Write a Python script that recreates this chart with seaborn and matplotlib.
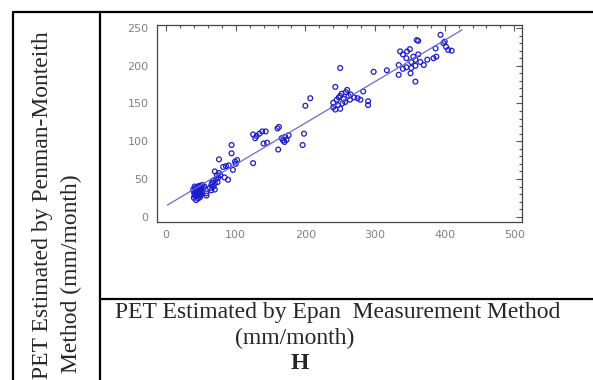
import numpy as np
import pandas as pd
import seaborn as sns
import matplotlib
matplotlib.use('Agg')
import matplotlib.pyplot as plt
from matplotlib.ticker import MultipleLocator

# PET by Epan measurement (x) vs PET by Penman-Monteith (y), mm/month
epan = [40, 41, 42, 43, 44, 45, 46, 47, 48, 49, 50, 40, 42, 44, 46, 48, 50, 43, 45, 47,
        39, 41, 52, 49, 44, 46, 51, 53, 55, 58, 58, 42, 45, 48, 41, 47, 50,
        63, 65, 66, 68, 70, 72, 73, 75, 68, 70, 74, 76, 78, 65,
        70, 76, 82, 89, 84, 94, 94, 99, 96, 86, 90, 100, 102,
        125, 125, 130, 134, 138, 143, 128, 140, 145,
        160, 162, 161, 166, 168, 171, 173, 176, 170, 198, 196, 200, 207,
        250, 243, 240, 245, 248, 250, 252, 255, 258, 260, 262, 264, 253, 247, 243, 240, 250,
        257, 265, 270, 279, 290, 283, 290, 275,
        298, 317, 334, 334, 336, 340, 346, 350, 345, 352, 358, 358, 355, 351, 358, 360, 362,
        365, 370, 375, 384, 388, 387, 394, 398, 400, 405, 410, 402, 345, 340, 362, 352]
pm = [25, 28, 30, 33, 36, 38, 40, 35, 32, 30, 36, 33, 38, 27, 24, 41, 40, 22, 30, 28,
      36, 40, 42, 26, 32, 34, 33, 38, 40, 28, 31, 35, 34, 37, 30, 31, 29,
      38, 42, 45, 48, 44, 50, 55, 52, 40, 36, 46, 58, 55, 35,
      60, 76, 66, 49, 52, 95, 84, 73, 62, 67, 68, 70, 75,
      71, 109, 107, 110, 113, 113, 104, 97, 98,
      117, 119, 89, 104, 101, 106, 102, 108, 99, 110, 95, 147, 157,
      197, 172, 151, 155, 158, 160, 163, 156, 165, 168, 160, 155, 150, 148, 142, 145, 143,
      152, 162, 158, 155, 153, 166, 148, 157,
      192, 194, 201, 188, 219, 215, 219, 222, 210, 205, 200, 208, 212, 190, 179, 234, 233,
      205, 201, 208, 210, 212, 223, 241, 230, 232, 221, 220, 225, 198, 196, 215, 197]

# fitted line
fit_x = [2, 425]
fit_y = [15.5, 247.6]

x_ticks = [0, 100, 200, 300, 400, 500]
y_ticks = [0, 50, 100, 150, 200, 250]

df = pd.DataFrame({'epan': epan, 'pm': pm})
fit = pd.DataFrame({'x': fit_x, 'y': fit_y})

sns.set_style('white')
plt.rcParams['font.family'] = ['DejaVu Sans']

fig = plt.figure(figsize=(5.93, 3.8), dpi=100)

# table frame and captions, in pixel coords
bg = fig.add_axes([0, 0, 1, 1])
bg.set_xlim(0, 593)
bg.set_ylim(380, 0)
bg.axis('off')
lc = 'black'
bg.plot([13, 13], [12, 380], color=lc, lw=1.6)
bg.plot([13, 593], [12, 12], color=lc, lw=1.6)
bg.plot([100, 100], [12, 380], color=lc, lw=1.6)
bg.plot([100, 593], [299, 299], color=lc, lw=1.6)

serif = ['Liberation Serif', 'DejaVu Serif']
bg.text(43, 379, 'PET Estimated by Penman-Monteith', rotation=90, ha='center', va='bottom',
        fontsize=17, family=serif)
bg.text(71, 373, 'Method (mm/month)', rotation=90, ha='center', va='bottom',
        fontsize=17, family=serif)
bg.text(115, 318, 'PET Estimated by Epan  Measurement Method', ha='left', va='baseline',
        fontsize=17, family=serif)
bg.text(295, 344, '(mm/month)', ha='center', va='baseline', fontsize=17, family=serif)
bg.text(300, 369, 'H', ha='center', va='baseline', fontsize=17, family=serif,
        fontweight='bold')

# scatter panel
ax = fig.add_axes([157 / 593, 1 - 222 / 380, 365 / 593, 197 / 380])
sns.scatterplot(data=df, x='epan', y='pm', ax=ax, marker='o', s=12,
                facecolor='none', edgecolor='#1c1ccc', linewidth=0.9)
sns.lineplot(data=fit, x='x', y='y', ax=ax, color='#6a6ad8', lw=0.9)

ax.set_xlim(-13, 511)
ax.set_ylim(-7, 254)
ax.set_xticks(x_ticks)
ax.set_yticks(y_ticks)
ax.xaxis.set_minor_locator(MultipleLocator(20))
ax.yaxis.set_minor_locator(MultipleLocator(10))
ax.tick_params(which='both', direction='in', top=True, right=True, colors='#555555',
               labelcolor='#808080', labelsize=8, width=0.8)
ax.tick_params(which='major', length=4, pad=6)
ax.tick_params(which='minor', length=2)
ax.set_xlabel('')
ax.set_ylabel('')
for s in ax.spines.values():
    s.set_color('#444444')
    s.set_linewidth(0.9)

plt.savefig('out.png', dpi=100)
